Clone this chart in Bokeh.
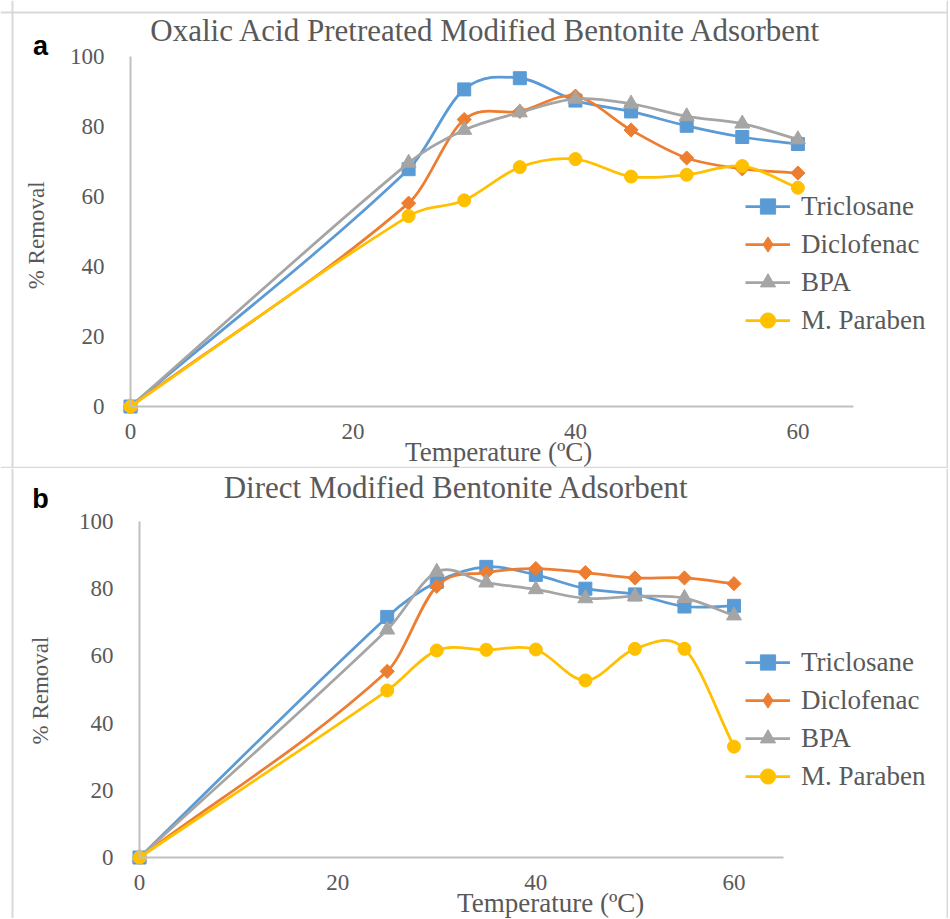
import numpy as np
from bokeh.plotting import figure
from bokeh.models import Range1d, FixedTicker, Label, Legend, LegendItem, ColumnDataSource, Span
from bokeh.layouts import column
from bokeh.embed import file_html
from bokeh.resources import INLINE

# Temperature (oC) for every series
temperature = [0, 25, 30, 35, 40, 45, 50, 55, 60]
series_names = ["Triclosane", "Diclofenac", "BPA", "M. Paraben"]

# (a) Oxalic acid pretreated modified bentonite, % removal
a_triclosane = [0, 67.8, 90.6, 93.8, 87.4, 84.3, 80.2, 77.0, 75.0]
a_diclofenac = [0, 58.1, 82.0, 84.3, 88.7, 79.0, 71.0, 67.9, 66.7]
a_bpa = [0, 69.6, 79.0, 84.0, 87.9, 86.5, 82.9, 80.8, 76.3]
a_paraben = [0, 54.4, 58.9, 68.4, 70.7, 65.7, 66.2, 68.7, 62.5]

# (b) Direct modified bentonite, % removal
b_triclosane = [0, 71.6, 82.0, 86.5, 84.1, 80.0, 78.3, 74.7, 74.9]
b_diclofenac = [0, 55.4, 80.7, 84.8, 86.0, 84.8, 83.2, 83.2, 81.5]
b_bpa = [0, 67.8, 85.0, 81.8, 79.8, 77.1, 77.7, 77.2, 72.0]
b_paraben = [0, 49.7, 61.6, 61.8, 61.9, 52.7, 62.1, 62.1, 33.0]

x_ticks = [0, 20, 40, 60]
y_ticks = [0, 20, 40, 60, 80, 100]

colors = ["#5B9BD5", "#ED7D31", "#A5A5A5", "#FFC000"]
# Excel diamond = square turned by 45 degrees
markers = ["square", "square", "triangle", "circle"]
marker_angles = [0, np.pi / 4, 0, 0]
marker_sizes = [13, 10, 15, 13]
# the legend ignores the marker angle, so it gets its own (hidden) diamond
legend_markers = ["square", "diamond", "triangle", "circle"]
legend_sizes = [13, 15, 15, 13]

SERIF = "Liberation Serif"
GREY_TEXT = "#595959"
FRAME_GREY = "#d9d9d9"
W = 948


def smooth_segments(xs, ys):
    # Excel-like smoothed line: one cubic bezier per segment, tangents from neighbours
    x = np.array(xs, dtype=float)
    y = np.array(ys, dtype=float)
    m = np.empty(len(x))
    m[0] = (y[1] - y[0]) / (x[1] - x[0])
    m[-1] = (y[-1] - y[-2]) / (x[-1] - x[-2])
    m[1:-1] = (y[2:] - y[:-2]) / (x[2:] - x[:-2])
    dx = np.diff(x)
    return ColumnDataSource(dict(
        x0=x[:-1], y0=y[:-1], x1=x[1:], y1=y[1:],
        cx0=x[:-1] + dx / 3, cy0=y[:-1] + m[:-1] * dx / 3,
        cx1=x[1:] - dx / 3, cy1=y[1:] - m[1:] * dx / 3,
    ))


def make_panel(series, height, xr, yr, letter, title, title_pos, letter_pos,
               xlabel_pos, ylabel_pos, legend_loc, borders):
    # the frame fills the whole canvas; axes sit at x=0 / y=0 inside it
    p = figure(width=W, height=height, x_range=Range1d(*xr), y_range=Range1d(*yr),
               output_backend="svg", toolbar_location=None, title=None,
               min_border=0)
    p.grid.visible = False
    p.outline_line_color = None
    p.background_fill_color = "white"
    p.border_fill_color = "white"

    for ax in (p.xaxis[0], p.yaxis[0]):
        ax.fixed_location = 0
        ax.axis_line_color = "#c0c0c0"
        ax.axis_line_width = 2
        ax.major_tick_line_color = None
        ax.minor_tick_line_color = None
        ax.major_tick_out = 0
        ax.major_tick_in = 0
        ax.minor_tick_out = 0
        ax.major_label_text_font = SERIF
        ax.major_label_text_font_size = "23px"
        ax.major_label_text_color = GREY_TEXT
    p.xaxis.ticker = FixedTicker(ticks=x_ticks)
    p.yaxis.ticker = FixedTicker(ticks=y_ticks)
    p.xaxis.bounds = (0, 65)
    p.yaxis.bounds = (0, 100)
    p.xaxis.major_label_standoff = 17
    p.yaxis.major_label_standoff = 26

    for loc, dim in borders:
        p.add_layout(Span(location=loc, dimension=dim, line_color=FRAME_GREY, line_width=2))

    items = []
    for i, (name, ys, color) in enumerate(zip(series_names, series, colors)):
        curve = p.bezier(x0="x0", y0="y0", x1="x1", y1="y1", cx0="cx0", cy0="cy0",
                         cx1="cx1", cy1="cy1", source=smooth_segments(temperature, ys),
                         line_color=color, line_width=2.75)
        p.scatter(temperature, ys, marker=markers[i], angle=marker_angles[i],
                  size=marker_sizes[i], fill_color=color, line_color=color)
        key = p.scatter(temperature, ys, marker=legend_markers[i], size=legend_sizes[i],
                        fill_color=color, line_color=color, visible=False)
        items.append(LegendItem(label=name, renderers=[curve, key]))

    legend = Legend(items=items, location=legend_loc, orientation="vertical",
                    glyph_width=45, glyph_height=38, label_height=38, spacing=0,
                    padding=0, margin=0, border_line_color=None, background_fill_alpha=0,
                    inactive_fill_alpha=0,
                    label_standoff=11, label_text_font=SERIF, label_text_font_size="27px",
                    label_text_color=GREY_TEXT)
    p.add_layout(legend)

    p.add_layout(Label(x=title_pos[0], y=title_pos[1], text=title, text_font=SERIF,
                       text_font_size="31px", text_color=GREY_TEXT,
                       text_align="center", text_baseline="middle"))
    p.add_layout(Label(x=letter_pos[0], y=letter_pos[1], text=letter,
                       text_font="Liberation Sans", text_font_style="bold",
                       text_font_size="27px", text_color="black",
                       text_align="center", text_baseline="middle"))
    p.add_layout(Label(x=xlabel_pos[0], y=xlabel_pos[1], text="Temperature (ºC)",
                       text_font=SERIF, text_font_size="27px", text_color=GREY_TEXT,
                       text_align="center", text_baseline="middle"))
    p.add_layout(Label(x=ylabel_pos[0], y=ylabel_pos[1], text="% Removal", angle=np.pi / 2,
                       text_font=SERIF, text_font_size="23px", text_color=GREY_TEXT,
                       text_align="center", text_baseline="middle"))
    return p


# panel a: canvas 948x468, y-axis 130px from left, x-axis 62px from bottom
pa = make_panel([a_triclosane, a_diclofenac, a_bpa, a_paraben], 468,
                (-11.69, 73.54), (-17.71, 116.0), "a",
                "Oxalic Acid Pretreated Modified Bentonite Adsorbent",
                (32.0, 107.4), (-8.1, 103.1), (33.1, -12.9), (-8.45, 48.9), (745, 129),
                [(112.57, "width"), (-17.5, "width"), (-10.61, "height"), (73.45, "height")])

# panel b: canvas 948x450, y-axis 139px from left, x-axis 61px from bottom
pb = make_panel([b_triclosane, b_diclofenac, b_bpa, b_paraben], 450,
                (-14.03, 81.65), (-18.15, 115.77), "b",
                "Direct Modified Bentonite Adsorbent",
                (32.0, 110.1), (-10.0, 106.8), (41.5, -13.5), (-10.0, 49.7), (745, 123),
                [(-12.82, "height"), (81.55, "height")])

layout = column(pa, pb, spacing=0)
open("out.html", "w").write(file_html(layout, INLINE))
